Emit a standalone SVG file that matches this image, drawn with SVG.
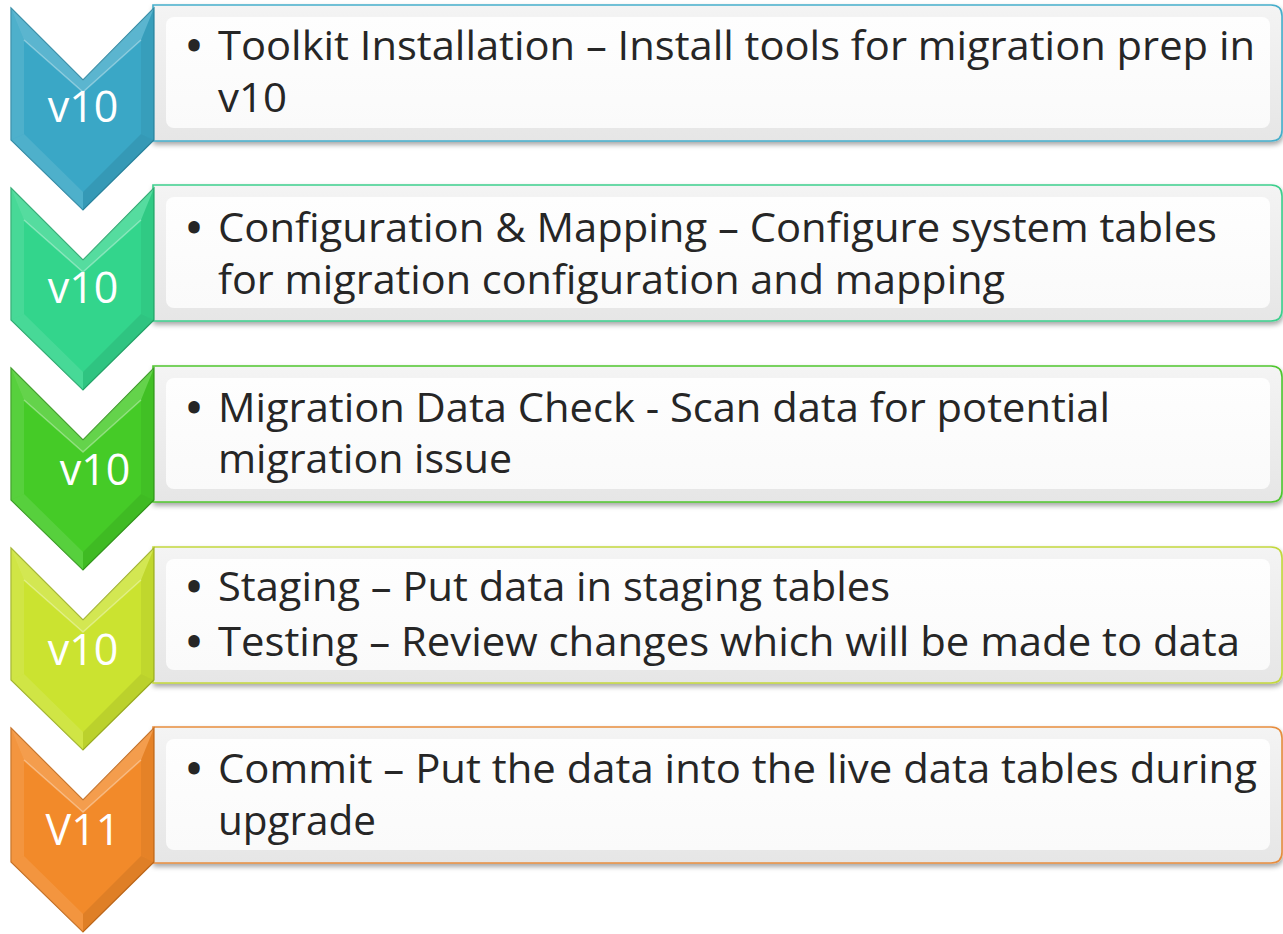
<svg xmlns="http://www.w3.org/2000/svg" width="1283" height="934" viewBox="0 0 1283 934">
<defs>
  <filter id="shadow" x="-5%" y="-10%" width="110%" height="130%">
    <feDropShadow dx="1" dy="3" stdDeviation="2.5" flood-color="#000" flood-opacity="0.35"/>
  </filter>
  <linearGradient id="frame" x1="0" y1="0" x2="0" y2="1">
    <stop offset="0" stop-color="#f4f4f4"/>
    <stop offset="1" stop-color="#e6e6e6"/>
  </linearGradient>
  <linearGradient id="panel" x1="0" y1="0" x2="0" y2="1">
    <stop offset="0" stop-color="#fefefe"/>
    <stop offset="1" stop-color="#fafafa"/>
  </linearGradient>
  <style>
    .lbl{font-family:"Open Sans","Noto Sans",sans-serif;font-size:43px;fill:#ffffff;text-anchor:middle}
    .txt{font-family:"Open Sans","Noto Sans",sans-serif;font-size:40px;fill:#262626}
    .bul{font-family:"Open Sans","Noto Sans",sans-serif;font-size:40px;fill:#262626;stroke:#262626;stroke-width:3;text-anchor:middle}
    .hi{fill:#ffffff;opacity:0.17}
    .hi2{fill:#ffffff;opacity:0.10}
    .dk{fill:#000000;opacity:0.05}
    .dk2{fill:#000000;opacity:0.08}
    .hl{fill:none;stroke:#ffffff;stroke-opacity:0.35;stroke-width:1.5}
    .frame{fill:url(#frame);stroke-width:1.6}
    .panel{fill:url(#panel)}
  </style>
</defs>

<!-- Step 1 -->
<g id="step1">
  <g id="box1" filter="url(#shadow)">
    <path class="frame" stroke="#45aecb" d="M153,5 H1271 Q1282,5 1282,16 V130 Q1282,141 1271,141 H153 Z"/>
  </g>
  <rect class="panel" x="166" y="17" width="1104" height="111" rx="8"/>
  <g id="chev1">
    <path fill="#3aa7c6" stroke="#2b88a3" stroke-width="1.2" d="M11,8 L83,80 L154,8 L154,140 L83,210 L11,140 Z"/>
    <path class="hi" d="M11,8 L83,80 L83,92 L24,40 Z"/>
    <path class="hi" d="M83,80 L154,8 L141,40 L83,92 Z"/>
    <path class="dk" d="M154,8 L154,140 L141,134 L141,40 Z"/>
    <path class="dk2" d="M154,140 L83,210 L83,192 L141,134 Z"/>
    <path class="hi2" d="M83,210 L11,140 L24,134 L83,192 Z"/>
    <path class="hi2" d="M11,140 L11,8 L24,40 L24,134 Z"/>
    <path class="hl" d="M24,40 L83,92 L141,40"/>
    <text class="lbl" x="83" y="122">v10</text>
  </g>
  <text class="bul" x="194" y="60">•</text>
  <text class="txt" x="218" y="60" textLength="1037" lengthAdjust="spacingAndGlyphs">Toolkit Installation – Install tools for migration prep in</text>
  <text class="txt" x="218" y="112" textLength="69" lengthAdjust="spacingAndGlyphs">v10</text>
</g>

<!-- Step 2 -->
<g id="step2">
  <g id="box2" filter="url(#shadow)">
    <path class="frame" stroke="#3ccf8d" d="M153,185 H1271 Q1282,185 1282,196 V310 Q1282,321 1271,321 H153 Z"/>
  </g>
  <rect class="panel" x="166" y="197" width="1104" height="111" rx="8"/>
  <g id="chev2">
    <path fill="#33d58c" stroke="#25a96c" stroke-width="1.2" d="M11,188 L83,260 L154,188 L154,320 L83,390 L11,320 Z"/>
    <path class="hi" d="M11,188 L83,260 L83,272 L24,220 Z"/>
    <path class="hi" d="M83,260 L154,188 L141,220 L83,272 Z"/>
    <path class="dk" d="M154,188 L154,320 L141,314 L141,220 Z"/>
    <path class="dk2" d="M154,320 L83,390 L83,372 L141,314 Z"/>
    <path class="hi2" d="M83,390 L11,320 L24,314 L83,372 Z"/>
    <path class="hi2" d="M11,320 L11,188 L24,220 L24,314 Z"/>
    <path class="hl" d="M24,220 L83,272 L141,220"/>
    <text class="lbl" x="83" y="303">v10</text>
  </g>
  <text class="bul" x="194" y="242">•</text>
  <text class="txt" x="218" y="242" textLength="999" lengthAdjust="spacingAndGlyphs">Configuration &amp; Mapping – Configure system tables</text>
  <text class="txt" x="218" y="294" textLength="787" lengthAdjust="spacingAndGlyphs">for migration configuration and mapping</text>
</g>

<!-- Step 3 -->
<g id="step3">
  <g id="box3" filter="url(#shadow)">
    <path class="frame" stroke="#4fc62f" d="M153,366 H1271 Q1282,366 1282,377 V491 Q1282,502 1271,502 H153 Z"/>
  </g>
  <rect class="panel" x="166" y="378" width="1104" height="111" rx="8"/>
  <g id="chev3">
    <path fill="#45cb27" stroke="#339a1c" stroke-width="1.2" d="M11,368 L83,440 L154,368 L154,500 L83,570 L11,500 Z"/>
    <path class="hi" d="M11,368 L83,440 L83,452 L24,400 Z"/>
    <path class="hi" d="M83,440 L154,368 L141,400 L83,452 Z"/>
    <path class="dk" d="M154,368 L154,500 L141,494 L141,400 Z"/>
    <path class="dk2" d="M154,500 L83,570 L83,552 L141,494 Z"/>
    <path class="hi2" d="M83,570 L11,500 L24,494 L83,552 Z"/>
    <path class="hi2" d="M11,500 L11,368 L24,400 L24,494 Z"/>
    <path class="hl" d="M24,400 L83,452 L141,400"/>
    <text class="lbl" x="95" y="485">v10</text>
  </g>
  <text class="bul" x="194" y="422">•</text>
  <text class="txt" x="218" y="422" textLength="892" lengthAdjust="spacingAndGlyphs">Migration Data Check - Scan data for potential</text>
  <text class="txt" x="218" y="473" textLength="294" lengthAdjust="spacingAndGlyphs">migration issue</text>
</g>

<!-- Step 4 -->
<g id="step4">
  <g id="box4" filter="url(#shadow)">
    <path class="frame" stroke="#c3d83c" d="M153,547 H1271 Q1282,547 1282,558 V672 Q1282,683 1271,683 H153 Z"/>
  </g>
  <rect class="panel" x="166" y="559" width="1104" height="111" rx="8"/>
  <g id="chev4">
    <path fill="#cbe330" stroke="#9fb224" stroke-width="1.2" d="M11,548 L83,620 L154,548 L154,680 L83,750 L11,680 Z"/>
    <path class="hi" d="M11,548 L83,620 L83,632 L24,580 Z"/>
    <path class="hi" d="M83,620 L154,548 L141,580 L83,632 Z"/>
    <path class="dk" d="M154,548 L154,680 L141,674 L141,580 Z"/>
    <path class="dk2" d="M154,680 L83,750 L83,732 L141,674 Z"/>
    <path class="hi2" d="M83,750 L11,680 L24,674 L83,732 Z"/>
    <path class="hi2" d="M11,680 L11,548 L24,580 L24,674 Z"/>
    <path class="hl" d="M24,580 L83,632 L141,580"/>
    <text class="lbl" x="83" y="665">v10</text>
  </g>
  <text class="bul" x="194" y="601">•</text>
  <text class="txt" x="218" y="601" textLength="672" lengthAdjust="spacingAndGlyphs">Staging – Put data in staging tables</text>
  <text class="bul" x="194" y="656">•</text>
  <text class="txt" x="218" y="656" textLength="1022" lengthAdjust="spacingAndGlyphs">Testing – Review changes which will be made to data</text>
</g>

<!-- Step 5 -->
<g id="step5">
  <g id="box5" filter="url(#shadow)">
    <path class="frame" stroke="#e78d3e" d="M153,727 H1271 Q1282,727 1282,738 V852 Q1282,863 1271,863 H153 Z"/>
  </g>
  <rect class="panel" x="166" y="739" width="1104" height="111" rx="8"/>
  <g id="chev5">
    <path fill="#f28a2a" stroke="#c46a1a" stroke-width="1.2" d="M11,728 L83,800 L154,728 L154,862 L83,932 L11,862 Z"/>
    <path class="hi" d="M11,728 L83,800 L83,812 L24,760 Z"/>
    <path class="hi" d="M83,800 L154,728 L141,760 L83,812 Z"/>
    <path class="dk" d="M154,728 L154,862 L141,856 L141,760 Z"/>
    <path class="dk2" d="M154,862 L83,932 L83,914 L141,856 Z"/>
    <path class="hi2" d="M83,932 L11,862 L24,856 L83,914 Z"/>
    <path class="hi2" d="M11,862 L11,728 L24,760 L24,856 Z"/>
    <path class="hl" d="M24,760 L83,812 L141,760"/>
    <text class="lbl" x="83" y="845">V11</text>
  </g>
  <text class="bul" x="194" y="783">•</text>
  <text class="txt" x="218" y="783" textLength="1039" lengthAdjust="spacingAndGlyphs">Commit – Put the data into the live data tables during</text>
  <text class="txt" x="218" y="835" textLength="158" lengthAdjust="spacingAndGlyphs">upgrade</text>
</g>

<g id="connectors"></g>
</svg>
